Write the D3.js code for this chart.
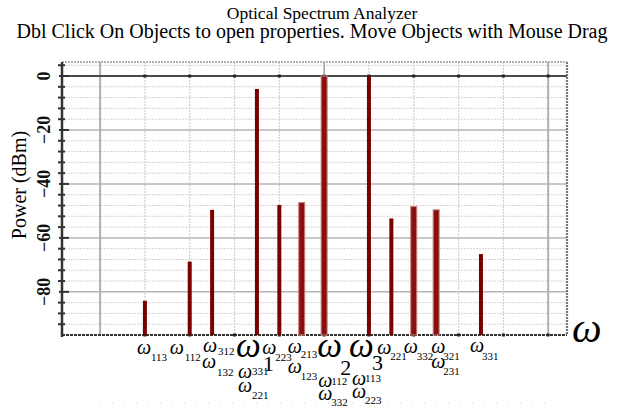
<!DOCTYPE html>
<html><head><meta charset="utf-8">
<script src="https://cdn.jsdelivr.net/npm/d3@7"></script>
<style>
html,body{margin:0;padding:0;background:#fff;}
svg{display:block;font-family:"Liberation Serif","Times New Roman",serif;}
</style></head>
<body><svg id="chart" width="623" height="408"></svg>
<script>
// ---- data ----
const categories = ['ω113','ω112','ω312','ω1','ω223','ω213','ω2','ω3','ω221','ω332','ω321','ω331'];
const positions  = [1, 2, 2.5, 3.5, 4, 4.5, 5, 6, 6.5, 7, 7.5, 8.5];
const powers     = [-83.3, -68.8, -49.6, -4.8, -47.8, -46.9, 0, 0, -52.8, -48.4, -49.6, -66];
const highlighted = ['ω213','ω2','ω332','ω321'];
const yTicks = [0, -20, -40, -60, -80];
const xGridTicks = [0,1,2,3,4,5,6,7,8,9,10];
const title1 = 'Optical Spectrum Analyzer';
const title2 = 'Dbl Click On Objects to open properties. Move Objects with Mouse Drag';
const yLabel = 'Power (dBm)';

// label annotations: anchor position, sub text, offsets
const labels = [
  {u:1,   dx:-8,  y:354, sub:'113', sdx:6,  sy:361},
  {u:2,   dx:-20, y:354, sub:'112', sdx:-5, sy:361},
  {u:2.5, dx:-9,  y:352, sub:'312', sdx:6,  sy:355},
  {u:2.5, dx:-10, y:368, sub:'132', sdx:5,  sy:376},
  {u:3.5, dx:-21, y:357, sub:'1',   sdx:6,  sy:371, big:true},
  {u:3.5, dx:-19, y:378, sub:'331', sdx:-5, sy:375},
  {u:3.5, dx:-19, y:392, sub:'221', sdx:-5, sy:399},
  {u:4,   dx:-17, y:354, sub:'223', sdx:-4, sy:361},
  {u:4.5, dx:-14, y:353, sub:'213', sdx:-1, sy:358},
  {u:4.5, dx:-14, y:373, sub:'123', sdx:-1, sy:380},
  {u:5,   dx:-7,  y:357, sub:'2',   sdx:16, sy:375, big:true},
  {u:5,   dx:-6,  y:387, sub:'112', sdx:7,  sy:385},
  {u:5,   dx:-6,  y:400, sub:'332', sdx:7,  sy:406},
  {u:6,   dx:-20, y:357, sub:'3',   sdx:3,  sy:370, big:true},
  {u:6,   dx:-17, y:385, sub:'113', sdx:-4, sy:382},
  {u:6,   dx:-17, y:398, sub:'223', sdx:-4, sy:404},
  {u:6.5, dx:-14, y:354, sub:'221', sdx:-1, sy:360},
  {u:7,   dx:-10, y:353, sub:'332', sdx:3,  sy:360},
  {u:7.5, dx:-5,  y:353, sub:'321', sdx:7,  sy:360},
  {u:7.5, dx:-5,  y:368, sub:'231', sdx:7,  sy:375},
  {u:8.5, dx:-11, y:352, sub:'331', sdx:1,  sy:360}
];

// ---- layout ----
const plot = {left:62, right:567, top:62, bottom:335};
const svg = d3.select('#chart');
const x = d3.scaleLinear().domain([-0.85, 10.42]).range([plot.left, plot.right]);
const y = d3.scaleLinear().domain([-96, 5.2]).range([plot.bottom, plot.top]);

// titles
svg.append('text').attr('x', 322).attr('y', 19).attr('text-anchor','middle')
  .attr('font-size', 17.5).text(title1);
svg.append('text').attr('x', 312).attr('y', 38).attr('text-anchor','middle')
  .attr('font-size', 20).text(title2);

const g = svg.append('g');

// minor horizontal grid (every 4 dB)
const minor = d3.range(-92, 5, 4).filter(v => v % 20 !== 0);
g.selectAll('.hminor').data(minor).enter().append('line')
  .attr('x1', plot.left).attr('x2', plot.right)
  .attr('y1', d => y(d)).attr('y2', d => y(d))
  .attr('stroke', '#d4d4d4').attr('stroke-width', 1).attr('stroke-dasharray', '2,1');

// major horizontal grid
g.selectAll('.hmajor').data(yTicks.filter(v => v !== 0)).enter().append('line')
  .attr('x1', plot.left).attr('x2', plot.right)
  .attr('y1', d => y(d)).attr('y2', d => y(d))
  .attr('stroke', '#b4b4b4').attr('stroke-width', 1.5);

// vertical grid
g.selectAll('.vgrid').data(xGridTicks).enter().append('line')
  .attr('x1', d => x(d)).attr('x2', d => x(d))
  .attr('y1', plot.top).attr('y2', plot.bottom)
  .attr('stroke', d => (d === 0 || d === 10) ? '#b0b0b0' : '#d0d0d0')
  .attr('stroke-width', d => (d === 0 || d === 10) ? 2 : 1.2)
  .attr('stroke-dasharray', d => (d === 0 || d === 10) ? null : '2,1');

// top border
g.append('line').attr('x1', plot.left).attr('x2', plot.right)
  .attr('y1', plot.top).attr('y2', plot.top)
  .attr('stroke', '#9a9a9a').attr('stroke-width', 1.5).attr('stroke-dasharray', '2,1');
// right border
g.append('line').attr('x1', plot.right).attr('x2', plot.right)
  .attr('y1', plot.top).attr('y2', plot.bottom)
  .attr('stroke', '#777').attr('stroke-width', 2.2).attr('stroke-dasharray', '2,1');

// zero line
g.append('line').attr('x1', plot.left).attr('x2', plot.right)
  .attr('y1', y(0)).attr('y2', y(0))
  .attr('stroke', '#4a4a4a').attr('stroke-width', 2);

// bottom axis
g.append('line').attr('x1', plot.left).attr('x2', plot.right)
  .attr('y1', plot.bottom).attr('y2', plot.bottom)
  .attr('stroke', '#333').attr('stroke-width', 2.2).attr('stroke-dasharray', '3,1');

// markers on zero line and bottom axis
[0, -96].forEach(v => {
  g.selectAll(null).data(xGridTicks.filter(d => d > 0)).enter().append('rect')
    .attr('x', d => x(d) - 1.5).attr('y', y(v) - 1.5)
    .attr('width', 3).attr('height', 3).attr('fill', '#222');
});

// small tick above zero at omega2
g.append('line').attr('x1', x(5)).attr('x2', x(5))
  .attr('y1', plot.top).attr('y2', y(0)).attr('stroke', '#888').attr('stroke-width', 1);

// faint dotted line at bottom
g.append('line').attr('x1', 100).attr('x2', 545).attr('y1', 403).attr('y2', 403)
  .attr('stroke', '#c8c8c8').attr('stroke-width', 1).attr('stroke-dasharray', '1,11');

// left axis
const yAxis = d3.axisLeft(y).tickValues(yTicks).tickSize(0).tickFormat(d => d3.format('')(d).replace('-', '−'));
g.append('line').attr('x1', plot.left).attr('x2', plot.left)
  .attr('y1', plot.top).attr('y2', plot.bottom + 2)
  .attr('stroke', '#333').attr('stroke-width', 2.5);
const minorTicks = d3.range(-92, 5, 4).filter(v => v % 20 !== 0);
g.selectAll('.mt').data(minorTicks).enter().append('line')
  .attr('x1', plot.left - 4).attr('x2', plot.left + 3)
  .attr('y1', d => y(d)).attr('y2', d => y(d)).attr('stroke', '#333').attr('stroke-width', 2);
g.selectAll('.Mt').data(yTicks).enter().append('line')
  .attr('x1', plot.left - 3).attr('x2', plot.left + 7)
  .attr('y1', d => y(d)).attr('y2', d => y(d)).attr('stroke', '#333').attr('stroke-width', 2);
g.selectAll('.yl').data(yTicks).enter().append('text')
  .attr('transform', d => `translate(50,${y(d)}) rotate(-90)`)
  .attr('text-anchor', 'middle').attr('font-size', 18).attr('font-weight', 'bold')
  .attr('fill', '#111')
  .text(d => yAxis.tickFormat()(d));

svg.append('text').attr('transform', 'translate(26,185) rotate(-90)')
  .attr('text-anchor', 'middle').attr('font-size', 20).text(yLabel);

// bars
const bars = categories.map((c, i) => ({c, u: positions[i], v: powers[i], hi: highlighted.includes(c)}));
g.selectAll('.bar').data(bars).enter().append('rect')
  .attr('x', d => x(d.u) - (d.hi ? 3 : 2))
  .attr('y', d => y(d.v))
  .attr('width', d => d.hi ? 6 : 4)
  .attr('height', d => y(-96) - y(d.v))
  .attr('fill', d => d.hi ? '#8a1010' : '#7a0000')
  .attr('stroke', d => d.hi ? '#c88080' : 'none')
  .attr('stroke-width', 1);

// x labels
const lg = svg.append('g');
labels.forEach(l => {
  const bx = x(l.u);
  lg.append('text').attr('x', bx + l.dx).attr('y', l.y)
    .attr('font-style', 'italic').attr('font-size', l.big ? 35 : 20).text('ω');
  lg.append('text').attr('x', bx + l.sdx).attr('y', l.sy)
    .attr('font-size', l.big ? 22 : 11).text(l.sub);
});
// axis symbol
svg.append('text').attr('x', 572).attr('y', 342).attr('font-style', 'italic')
  .attr('font-size', 42).text('ω');
</script>
</body></html>
